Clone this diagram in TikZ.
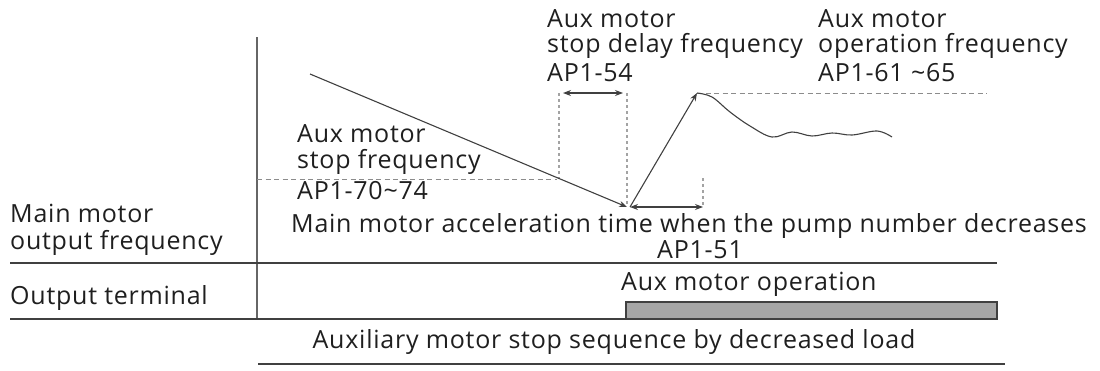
\documentclass[tikz,border=0pt]{standalone}
\usepackage{fontspec}
\setmainfont{Open Sans}[LetterSpace=3]
\usetikzlibrary{arrows.meta}
\definecolor{txt}{HTML}{1F1F1F}
\definecolor{ln}{HTML}{404040}
\definecolor{barfill}{HTML}{A6A6A6}
\definecolor{dashc}{HTML}{8C8C8C}
\tikzset{
  lbl/.style={font=\fontsize{25}{28}\selectfont, text=txt, inner sep=0pt, anchor=west},
  lblc/.style={font=\fontsize{25}{28}\selectfont, text=txt, inner sep=0pt},
  rule/.style={draw=ln, line width=1.3pt},
  axisline/.style={draw=ln!80, line width=1.6pt},
  levelline/.style={draw=dashc, line width=1pt, dash pattern=on 5pt off 3.5pt},
  guideline/.style={draw=dashc!80, line width=1.6pt, dash pattern=on 3pt off 3pt},
  tip/.style={-{Stealth[length=8pt,width=6pt]}},
  dtip/.style={{Stealth[length=8pt,width=6pt]}-{Stealth[length=8pt,width=6pt]}},
  curve/.style={draw=ln, line width=1.1pt},
}
\begin{document}
\begin{tikzpicture}[x=1pt,y=-1pt]
\useasboundingbox (0,0) rectangle (1100,370);
% coordinates
\coordinate (axTop) at (257,37);
\coordinate (axBot) at (257,319);
\coordinate (l1a) at (10,263);
\coordinate (l1b) at (997,263);
\coordinate (l2a) at (10,319);
\coordinate (l2b) at (997,319);
\coordinate (l3a) at (258,364);
\coordinate (l3b) at (1005,364);
\coordinate (start) at (310,74);
\coordinate (low) at (627,207);
\coordinate (lowR) at (630,207);
\coordinate (peak) at (697,93);
\coordinate (topEnd) at (987,93);
\coordinate (stopA) at (257,179);
\coordinate (stopB) at (557,179);
\coordinate (g1t) at (559,93);
\coordinate (g1b) at (559,179);
\coordinate (g2t) at (627,93);
\coordinate (g2b) at (627,205);
\coordinate (g3t) at (703,178);
\coordinate (g3b) at (703,205);
\coordinate (d1a) at (563,93);
\coordinate (d1b) at (623,93);
\coordinate (d2b) at (703,207);
\coordinate (barA) at (626,302);
\coordinate (barB) at (997,319);

% axis and rules
\draw[axisline] (axTop) -- (axBot);
\draw[rule] (l1a) -- (l1b);
\draw[rule] (l2a) -- (l2b);
\draw[rule] (l3a) -- (l3b);

% guide lines
\draw[levelline] (stopA) -- (stopB);
\draw[levelline] (peak) -- (topEnd);
\draw[guideline] (g1t) -- (g1b);
\draw[guideline] (g2t) -- (g2b);
\draw[guideline] (g3t) -- (g3b);

% main curve
\draw[curve, tip] (start) -- (low);
\draw[curve, tip] (lowR) -- (peak);
\draw[curve] plot[smooth, tension=0.6] coordinates {(697,93) (712,97) (730,112) (750,126) (772,137) (792,132) (812,136) (832,133) (852,135) (877,131) (892,137)};
\draw[curve, dtip] (d1a) -- (d1b);
\draw[curve, dtip] (lowR) -- (d2b);

% output bar
\draw[draw=ln, line width=1.3pt, fill=barfill] (barA) rectangle (barB);

% labels
\node[lbl] (mm1) at (10,213) {Main motor};
\node[lbl] (mm2) at (10,243) {output frequency};
\node[lbl] (ot) at (10,298) {Output terminal};
\node[lblc] (seq) at (614,342) {Auxiliary motor stop sequence by decreased load};
\node[lbl] (aop) at (621,284) {Aux motor operation};
\node[lblc] (ap51) at (700,250) {AP1-51};
\node[lblc] (acc) at (689,226) {Main motor acceleration time when the pump number decreases};
\node[lbl] (sf1) at (297,134) {Aux motor};
\node[lbl] (sf2) at (297,162) {stop frequency};
\node[lbl] (sf3) at (297,191) {AP1-70\textasciitilde 74};
\node[lbl] (sd1) at (547,19) {Aux motor};
\node[lbl] (sd2) at (547,46) {stop delay frequency};
\node[lbl] (sd3) at (547,73) {AP1-54};
\node[lbl] (of1) at (818,19) {Aux motor};
\node[lbl] (of2) at (818,46) {operation frequency};
\node[lbl] (of3) at (818,73) {AP1-61 \textasciitilde 65};
\end{tikzpicture}
\end{document}
